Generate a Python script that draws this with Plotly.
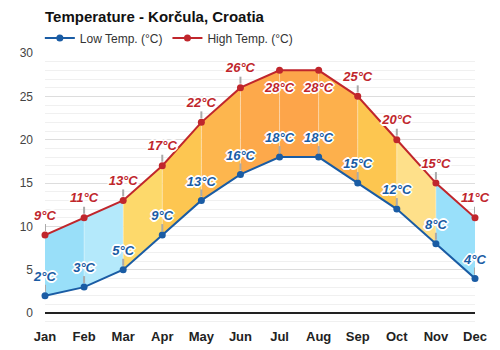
import plotly.graph_objects as go

months = ["Jan", "Feb", "Mar", "Apr", "May", "Jun", "Jul", "Aug", "Sep", "Oct", "Nov", "Dec"]
low_temps = [2, 3, 5, 9, 13, 16, 18, 18, 15, 12, 8, 4]
high_temps = [9, 11, 13, 17, 22, 26, 28, 28, 25, 20, 15, 11]
segment_colors = ["#99dff9", "#b4e9fb", "#fdd96b", "#fdc651", "#fdb64e", "#fda94b",
                  "#fda54a", "#fdb04c", "#fdc650", "#fee08a", "#99e0fa"]

LOW_COLOR = "#1a5ca4"
HIGH_COLOR = "#c0262c"
FONT = "Liberation Sans, Arial"
HALO = ("1px 1px 0 #fff, -1px -1px 0 #fff, 1px -1px 0 #fff, -1px 1px 0 #fff, "
        "0 1px 0 #fff, 0 -1px 0 #fff, 1px 0 0 #fff, -1px 0 0 #fff, "
        "2px 0 0 #fff, -2px 0 0 #fff, 0 2px 0 #fff, 0 -2px 0 #fff")

x = list(range(len(months)))
fig = go.Figure()

# coloured band segments between low and high
for i in range(len(months) - 1):
    fig.add_trace(go.Scatter(
        x=[x[i], x[i + 1], x[i + 1], x[i], x[i]],
        y=[low_temps[i], low_temps[i + 1], high_temps[i + 1], high_temps[i], low_temps[i]],
        fill="toself", fillcolor=segment_colors[i], mode="lines",
        line=dict(width=0), hoverinfo="skip", showlegend=False))

# faint month separators inside band
sep_x, sep_y = [], []
for i in range(1, len(months) - 1):
    sep_x += [x[i], x[i], None]
    sep_y += [low_temps[i], high_temps[i], None]
fig.add_trace(go.Scatter(x=sep_x, y=sep_y, mode="lines",
                         line=dict(color="rgba(255,255,255,0.35)", width=1),
                         hoverinfo="skip", showlegend=False))

fig.add_trace(go.Scatter(x=x, y=low_temps, mode="lines+markers", name="Low Temp. (°C)",
                         line=dict(color=LOW_COLOR, width=2),
                         marker=dict(color=LOW_COLOR, size=7), cliponaxis=False))
fig.add_trace(go.Scatter(x=x, y=high_temps, mode="lines+markers", name="High Temp. (°C)",
                         line=dict(color=HIGH_COLOR, width=2),
                         marker=dict(color=HIGH_COLOR, size=7), cliponaxis=False))

# value labels (invisible larger markers push the text away from the point)
peak = max(high_temps)
fig.add_trace(go.Scatter(
    x=x, y=low_temps, mode="markers+text", text=[f"{v}°C" for v in low_temps],
    textposition="top center", cliponaxis=False, hoverinfo="skip", showlegend=False,
    marker=dict(size=17, color="rgba(0,0,0,0)"),
    textfont=dict(family=FONT, size=13, color=LOW_COLOR, weight="bold", style="italic",
                  shadow=HALO)))
fig.add_trace(go.Scatter(
    x=x, y=high_temps, mode="markers+text", text=[f"{v}°C" for v in high_temps],
    textposition=["bottom center" if v == peak else "top center" for v in high_temps],
    cliponaxis=False, hoverinfo="skip", showlegend=False,
    marker=dict(size=18, color="rgba(0,0,0,0)"),
    textfont=dict(family=FONT, size=13, color=HIGH_COLOR, weight="bold", style="italic",
                  shadow=HALO)))

shapes = []


def add_tick(xv, yv):
    shapes.append(dict(type="line", xref="x", yref="y", ysizemode="pixel",
                       yanchor=yv, x0=xv, x1=xv, y0=4, y1=11,
                       line=dict(color="#aaaaaa", width=2), layer="above"))


for i in range(len(months)):
    add_tick(x[i], low_temps[i])
    if high_temps[i] != peak:
        add_tick(x[i], high_temps[i])

fig.update_layout(
    width=500, height=350,
    margin=dict(l=45, r=25, t=53, b=23),
    paper_bgcolor="white", plot_bgcolor="white",
    font=dict(family=FONT, size=12, color="#333"),
    title=dict(text="<b>Temperature - Korčula, Croatia</b>", x=45 / 500, xanchor="left",
               y=1 - 17 / 350, yanchor="middle",
               font=dict(size=15, color="#111")),
    legend=dict(orientation="h", x=-0.012, xanchor="left", y=1 + 15 / 274, yanchor="middle",
                font=dict(size=12, color="#333"), bgcolor="rgba(0,0,0,0)",
                itemwidth=30),
    shapes=shapes,
    showlegend=True,
)
fig.update_xaxes(range=[0, 11], tickvals=x, ticktext=months, showgrid=False,
                 zeroline=False, showline=False, ticks="", automargin=False,
                 tickfont=dict(size=13, color="#222", weight="bold"))
fig.update_yaxes(range=[-1.6, 30], dtick=5, tick0=0, showgrid=True, gridcolor="#dddddd",
                 minor=dict(dtick=1, showgrid=True, gridcolor="#f0f0f0"),
                 zeroline=True, zerolinecolor="#222", zerolinewidth=1.5,
                 showline=False, ticks="", tickfont=dict(size=12, color="#444"),
                 ticklabelstandoff=11, automargin=False)

fig.write_html("out.html")
